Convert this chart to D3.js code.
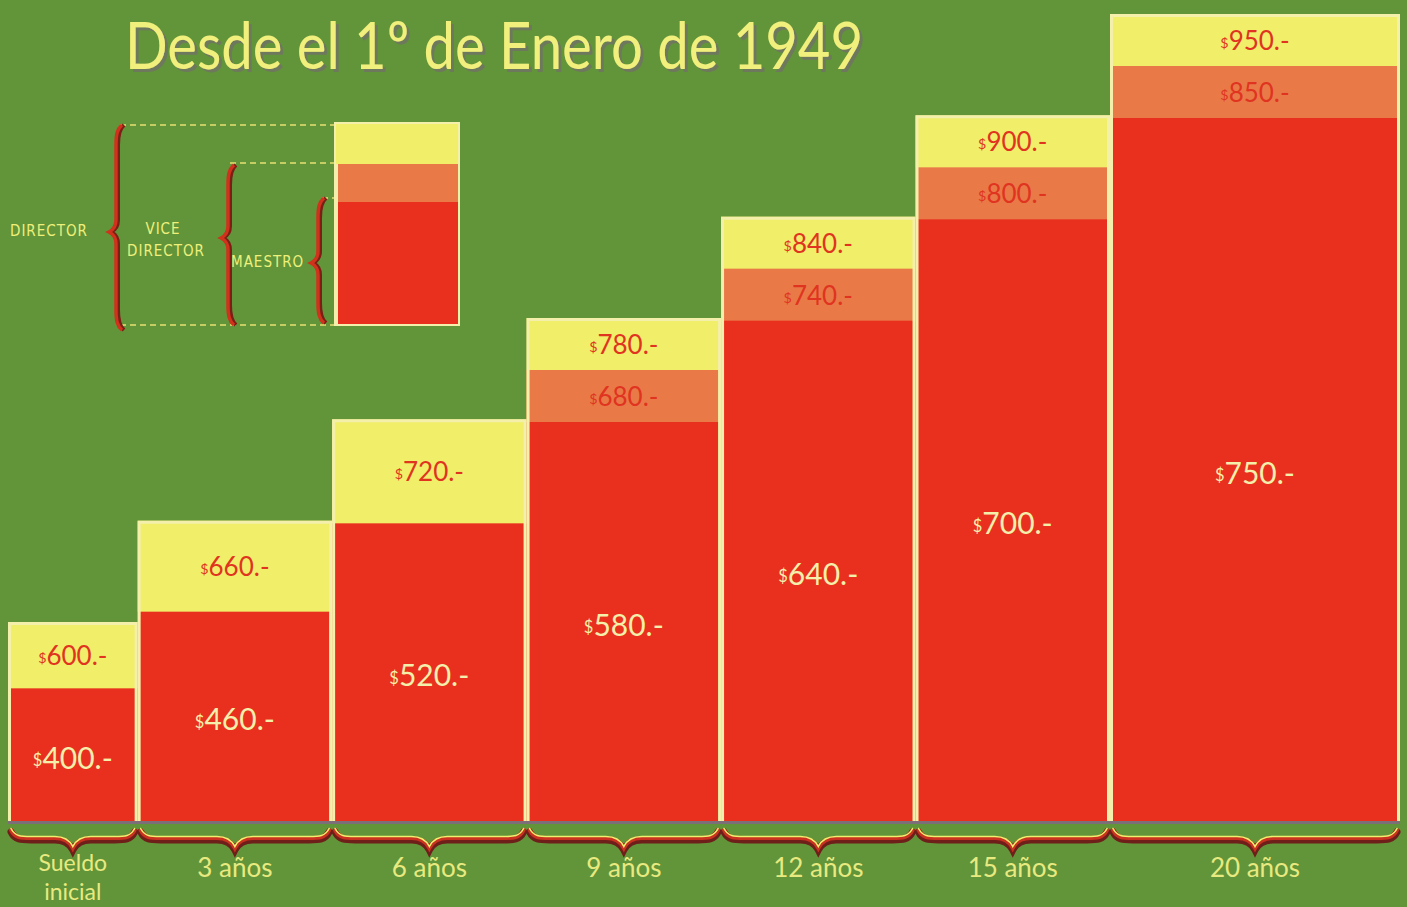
<!DOCTYPE html>
<html>
<head>
<meta charset="utf-8">
<script src="https://cdn.jsdelivr.net/npm/d3@7"></script>
<style>
  html, body { margin: 0; padding: 0; background: #62943a; }
  svg { display: block; }
</style>
</head>
<body>
<svg width="1407" height="907"></svg>
<script>

// salary table (pesos per month)
var categories = ["Sueldo inicial", "3 años", "6 años", "9 años", "12 años", "15 años", "20 años"];
var years = [0, 3, 6, 9, 12, 15, 20];
var maestro = [400, 460, 520, 580, 640, 700, 750];
var viceDirector = [null, null, null, 680, 740, 800, 850];
var director = [600, 660, 720, 780, 840, 900, 950];

var svg = d3.select("svg"),
    width = +svg.attr("width"),
    height = +svg.attr("height");

var green = "#62943a", red = "#e9301e", orange = "#e97a48",
    yellow = "#f1ee6a", light = "#f4efaa", ink = "#e03420";

var defs = svg.append("defs");
defs.append("filter").attr("id", "shadow")
  .attr("x", "-5%").attr("y", "-20%").attr("width", "110%").attr("height", "140%")
  .append("feDropShadow")
  .attr("dx", 3).attr("dy", 3).attr("stdDeviation", 0.6)
  .attr("flood-color", "#6f7560").attr("flood-opacity", 0.9);

svg.append("rect").attr("width", width).attr("height", height).attr("fill", green);

var base = 821;

// columns: each spans from the previous step (in years) to its own
var x = d3.scaleLinear().domain([-2, 15, 20]).range([8, 1110, 1400]);
// ladder: each column one step higher than the previous
var step = d3.scaleLinear().domain([0, categories.length - 1]).range([622, 14]);
// difference to the director's pay inside a column
var depth = d3.scaleLinear().domain([0, 200]).range([0, 104]);

var cols = categories.map(function(c, i) {
  var top = step(i);
  var segTop = function(v) {
    var h = base - top;
    return top + Math.min(depth(director[i] - v), h * (1 - v / director[i]));
  };
  return {
    name: c,
    x0: x(i == 0 ? years[i] - 2 : years[i - 1]),
    x1: x(years[i]),
    top: top,
    dir: director[i],
    vice: viceDirector[i],
    mae: maestro[i],
    viceTop: viceDirector[i] ? segTop(viceDirector[i]) : null,
    maeTop: segTop(maestro[i])
  };
});

var g = svg.append("g");

// yellow (director)
g.selectAll(".dir").data(cols).enter().append("rect")
  .attr("x", d => d.x0).attr("y", d => d.top)
  .attr("width", d => d.x1 - d.x0).attr("height", d => base - d.top)
  .attr("fill", yellow);

// orange (vice director)
g.selectAll(".vice").data(cols.filter(d => d.vice)).enter().append("rect")
  .attr("x", d => d.x0).attr("y", d => d.viceTop)
  .attr("width", d => d.x1 - d.x0).attr("height", d => base - d.viceTop)
  .attr("fill", orange);

// red (maestro)
g.selectAll(".mae").data(cols).enter().append("rect")
  .attr("x", d => d.x0).attr("y", d => d.maeTop)
  .attr("width", d => d.x1 - d.x0).attr("height", d => base - d.maeTop)
  .attr("fill", red);

// light outline of every column
g.selectAll(".edge").data(cols).enter().append("path")
  .attr("d", d => "M" + (d.x0 + 1.5) + "," + base + "V" + (d.top + 1.5) + "H" + (d.x1 - 1.5) + "V" + base)
  .attr("fill", "none").attr("stroke", light).attr("stroke-width", 3);

// dark base line
svg.append("line")
  .attr("x1", x(-2)).attr("x2", x(20))
  .attr("y1", base + 1.5).attr("y2", base + 1.5)
  .attr("stroke", "#7d6f78").attr("stroke-width", 3);

// value labels
function money(sel, v, size) {
  sel.append("tspan").attr("font-size", size * 0.55).attr("dy", -size * 0.08).text("$");
  sel.append("tspan").attr("dy", size * 0.08).text(v + ".-");
}

var labels = svg.append("g").attr("font-family", "Lato, 'Open Sans', sans-serif")
  .attr("text-anchor", "middle");

cols.forEach(function(d) {
  var cx = (d.x0 + d.x1) / 2;
  var dirBottom = d.vice ? d.viceTop : d.maeTop;
  labels.append("text")
    .attr("x", cx).attr("y", (d.top + dirBottom) / 2 + 10)
    .attr("fill", ink).attr("font-size", 26)
    .call(money, d.dir, 26);
  if (d.vice) {
    labels.append("text")
      .attr("x", cx).attr("y", (d.viceTop + d.maeTop) / 2 + 10)
      .attr("fill", ink).attr("font-size", 26)
      .call(money, d.vice, 26);
  }
  labels.append("text")
    .attr("x", cx).attr("y", (d.maeTop + base) / 2 + 14)
    .attr("fill", light).attr("font-size", 30)
    .call(money, d.mae, 30);
});

// curly braces under each column
function hBrace(x0, x1, y) {
  var m = (x0 + x1) / 2;
  return "M" + x0 + "," + y +
    "C" + (x0 + 4) + "," + (y + 8) + " " + (x0 + 10) + "," + (y + 8) + " " + (x0 + 20) + "," + (y + 8) +
    "L" + (m - 18) + "," + (y + 8) +
    "C" + (m - 8) + "," + (y + 8) + " " + (m - 3) + "," + (y + 12) + " " + m + "," + (y + 18) +
    "C" + (m + 3) + "," + (y + 12) + " " + (m + 8) + "," + (y + 8) + " " + (m + 18) + "," + (y + 8) +
    "L" + (x1 - 20) + "," + (y + 8) +
    "C" + (x1 - 10) + "," + (y + 8) + " " + (x1 - 4) + "," + (y + 8) + " " + x1 + "," + y;
}

var braces = svg.append("g").attr("fill", "none").attr("stroke-linecap", "round");
braces.selectAll(".b1").data(cols).enter().append("path")
  .attr("d", d => hBrace(d.x0 + 3, d.x1 - 3, 830))
  .attr("stroke", "#6e1f1a").attr("stroke-width", 7).attr("transform", "translate(0,2)");
braces.selectAll(".b2").data(cols).enter().append("path")
  .attr("d", d => hBrace(d.x0 + 3, d.x1 - 3, 830))
  .attr("stroke", "#c8321e").attr("stroke-width", 4);
braces.selectAll(".b3").data(cols).enter().append("path")
  .attr("d", d => hBrace(d.x0 + 3, d.x1 - 3, 830))
  .attr("stroke", "#eef070").attr("stroke-width", 1.6).attr("transform", "translate(0,-1.5)");

// category labels
var cat = svg.append("g").attr("font-family", "Lato, 'Open Sans', sans-serif")
  .attr("text-anchor", "middle").attr("font-size", 26).attr("fill", "#e8ea80");
cols.forEach(function(d) {
  var cx = (d.x0 + d.x1) / 2;
  if (d.name == "Sueldo inicial") {
    var parts = d.name.split(" ");
    cat.append("text").attr("x", cx).attr("y", 871).attr("font-size", 23).text(parts[0]);
    cat.append("text").attr("x", cx).attr("y", 900).attr("font-size", 23).text(parts[1]);
  } else {
    cat.append("text").attr("x", cx).attr("y", 877).text(d.name);
  }
});

// title
svg.append("text").attr("x", 125).attr("y", 69).text("Desde el 1º de Enero de 1949")
  .attr("font-family", "Lato, 'Open Sans', sans-serif").attr("font-size", 66)
  .attr("textLength", 738).attr("lengthAdjust", "spacingAndGlyphs")
  .attr("fill", "#f2f07c").attr("filter", "url(#shadow)");

// key
var key = svg.append("g");
key.append("rect").attr("x", 334).attr("y", 122).attr("width", 126).attr("height", 204).attr("fill", light);
key.append("rect").attr("x", 336).attr("y", 124).attr("width", 122).attr("height", 40).attr("fill", yellow);
key.append("rect").attr("x", 338).attr("y", 164).attr("width", 120).attr("height", 38).attr("fill", orange);
key.append("rect").attr("x", 338).attr("y", 202).attr("width", 120).attr("height", 122).attr("fill", red);

var dash = key.append("g").attr("stroke", "#e8e070").attr("stroke-width", 1.3).attr("stroke-dasharray", "6,4");
[[120, 125], [230, 163], [322, 198], [120, 325]].forEach(function(p) {
  dash.append("line").attr("x1", p[0]).attr("x2", 334).attr("y1", p[1]).attr("y2", p[1]);
});

function vBrace(xx, y0, y1, tip) {
  return "M" + (xx + 6) + "," + y0 +
    "C" + (xx + 1) + "," + (y0 + 4) + " " + xx + "," + (y0 + 10) + " " + xx + "," + (y0 + 20) +
    "L" + xx + "," + (tip - 12) +
    "C" + xx + "," + (tip - 5) + " " + (xx - 3) + "," + (tip - 2) + " " + (xx - 7) + "," + tip +
    "C" + (xx - 3) + "," + (tip + 2) + " " + xx + "," + (tip + 5) + " " + xx + "," + (tip + 12) +
    "L" + xx + "," + (y1 - 20) +
    "C" + xx + "," + (y1 - 10) + " " + (xx + 1) + "," + (y1 - 4) + " " + (xx + 6) + "," + y1;
}
[[116, 125, 330, 232], [228, 165, 325, 238], [318, 198, 323, 263]].forEach(function(b) {
  key.append("path").attr("d", vBrace(b[0] + 2, b[1], b[2], b[3]))
    .attr("fill", "none").attr("stroke", "#7a1e16").attr("stroke-width", 4);
  key.append("path").attr("d", vBrace(b[0], b[1], b[2], b[3]))
    .attr("fill", "none").attr("stroke", "#d0321c").attr("stroke-width", 3.5);
});

var kt = key.append("g").attr("font-family", "'DejaVu Sans Condensed', 'DejaVu Sans', sans-serif")
  .attr("font-size", 15).attr("fill", "#eef07a").attr("letter-spacing", 1);
kt.append("text").attr("x", 10).attr("y", 236).text("DIRECTOR");
kt.append("text").attr("x", 163).attr("y", 234).attr("text-anchor", "middle").text("VICE");
kt.append("text").attr("x", 166).attr("y", 256).attr("text-anchor", "middle").text("DIRECTOR");
kt.append("text").attr("x", 231).attr("y", 267).text("MAESTRO");

</script>
</body>
</html>
